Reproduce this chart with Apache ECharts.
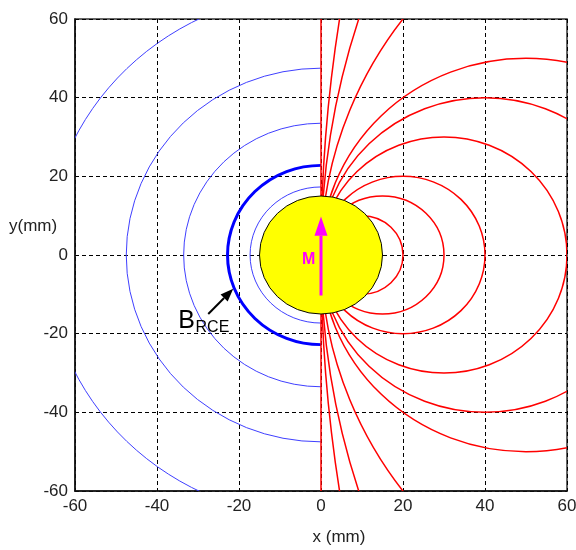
<!DOCTYPE html>
<html><head><meta charset="utf-8">
<script src="https://cdn.jsdelivr.net/npm/echarts@6/dist/echarts.min.js"></script>
<style>html,body{margin:0;padding:0;background:#fff}#c{width:576px;height:550px}</style>
</head><body><div id="c"></div>
<script>
// ---- axes ----
const axisMin = -60, axisMax = 60, axisStep = 20;
const xName = 'x (mm)';
const yName = 'y(mm)';

// ---- blue contours: half circles (x <= 0) centred on the origin, radii in mm ----
const blueThinRadii = [67, 47.5, 33.5, 17.3];
const blueRceRadii = [22.8];
// ---- red field lines: circles through the origin, centred on the x axis; radius in mm ----
const redCircleRadii = [10, 15, 20, 30, 40, 50, 100, 200, 400];
const redAxisLine = [[0, -60], [0, 60]];

// ---- sphere, moment arrow, annotation ----
const sphere = [[0, 0, 15]];                 // centre x, centre y, radius (mm)
const moment = [[0, -10.3, 9.8, 4.9]];       // x, tail y, tip y, head-base y
const momentLabel = 'M';
const momentLabelPos = [-3.0, -1.1];
const annotArrow = [[-27.5, -15.0, -21.4, -8.6]]; // tail x,y -> tip x,y
const annotMain = 'B', annotSub = 'RCE';
const annotMainPos = [-34.8, -16.9];
const annotSubPos = [-30.6, -18.5];

const FONT = 'Liberation Sans, Arial, sans-serif';
const chart = echarts.init(document.getElementById('c'), null, {renderer: 'canvas'});

// ellipse arc in pixel space for a data-space circle
function arcEl(api, cxData, cyData, rData, a0, a1, color, width) {
  const c = api.coord([cxData, cyData]);
  const s = api.size([rData, rData]);
  return {
    type: 'arc', x: c[0], y: c[1], scaleX: 1, scaleY: s[1] / s[0], originX: 0, originY: 0,
    shape: {cx: 0, cy: 0, r: s[0], startAngle: a0, endAngle: a1, clockwise: true},
    style: {stroke: color, lineWidth: width, fill: null, strokeNoScale: true}
  };
}

const series = [];

// blue thin half circles
series.push({
  type: 'custom', coordinateSystem: 'cartesian2d', clip: true, z: 2, animation: false, silent: true,
  data: blueThinRadii.map(r => [0, 0, r]),
  renderItem: function (params, api) {
    return arcEl(api, api.value(0), api.value(1), api.value(2), Math.PI / 2, Math.PI * 1.5, '#3a3aff', 1);
  }
});
// blue thick half circle (B_RCE)
series.push({
  type: 'custom', coordinateSystem: 'cartesian2d', clip: true, z: 2, animation: false, silent: true,
  data: blueRceRadii.map(r => [0, 0, r]),
  renderItem: function (params, api) {
    return arcEl(api, api.value(0), api.value(1), api.value(2), Math.PI / 2, Math.PI * 1.5, '#0000ff', 3);
  }
});
// red circles
series.push({
  type: 'custom', coordinateSystem: 'cartesian2d', clip: true, z: 3, animation: false, silent: true,
  data: redCircleRadii.map(r => [r, 0, r]),
  renderItem: function (params, api) {
    return arcEl(api, api.value(0), api.value(1), api.value(2), 0, Math.PI * 2, '#ff0000', 1.5);
  }
});
// red vertical axis line
series.push({type: 'line', data: redAxisLine, symbol: 'none', z: 3, clip: true, silent: true, animation: false,
  lineStyle: {color: '#ff0000', width: 1.5}});

series.push({
  type: 'custom', coordinateSystem: 'cartesian2d', data: sphere, z: 5, animation: false, silent: true,
  renderItem: function (params, api) {
    const c = api.coord([api.value(0), api.value(1)]);
    const s = api.size([api.value(2), api.value(2)]);
    return {type: 'arc', x: c[0], y: c[1], scaleX: 1, scaleY: s[1] / s[0], originX: 0, originY: 0,
      shape: {cx: 0, cy: 0, r: s[0], startAngle: 0, endAngle: Math.PI * 2},
      style: {fill: '#ffff00', stroke: '#000', lineWidth: 1, strokeNoScale: true}};
  }
});

series.push({
  type: 'custom', coordinateSystem: 'cartesian2d', data: moment, z: 6, animation: false, silent: true,
  renderItem: function (params, api) {
    const x = api.value(0);
    const p0 = api.coord([x, api.value(1)]);
    const p1 = api.coord([x, api.value(2)]);
    const pb = api.coord([x, api.value(3)]);
    const lp = api.coord(momentLabelPos);
    return {type: 'group', children: [
      {type: 'line', shape: {x1: p0[0], y1: p0[1], x2: pb[0], y2: pb[1]}, style: {stroke: '#ff00ff', lineWidth: 3}},
      {type: 'polygon', shape: {points: [p1, [pb[0] - 6.5, pb[1]], [pb[0] + 6.5, pb[1]]]}, style: {fill: '#ff00ff'}},
      {type: 'text', x: lp[0], y: lp[1], style: {text: momentLabel, fill: '#ff00ff', font: 'bold 16px ' + FONT, align: 'center', verticalAlign: 'middle'}}
    ]};
  }
});

series.push({
  type: 'custom', coordinateSystem: 'cartesian2d', data: annotArrow, z: 7, animation: false, silent: true, clip: false,
  renderItem: function (params, api) {
    const t = api.coord([api.value(0), api.value(1)]);
    const h = api.coord([api.value(2), api.value(3)]);
    const dx = h[0] - t[0], dy = h[1] - t[1];
    const len = Math.sqrt(dx * dx + dy * dy);
    const ux = dx / len, uy = dy / len;
    const hl = 13, hw = 5;
    const bx = h[0] - ux * hl, by = h[1] - uy * hl;
    const mp = api.coord(annotMainPos);
    const sp = api.coord(annotSubPos);
    return {type: 'group', children: [
      {type: 'line', shape: {x1: t[0], y1: t[1], x2: bx, y2: by}, style: {stroke: '#000', lineWidth: 2}},
      {type: 'polygon', shape: {points: [h, [bx - uy * hw, by + ux * hw], [bx + uy * hw, by - ux * hw]]}, style: {fill: '#000'}},
      {type: 'text', x: mp[0], y: mp[1], style: {text: annotMain, fill: '#000', font: '25px ' + FONT, align: 'left', verticalAlign: 'middle'}},
      {type: 'text', x: sp[0], y: sp[1], style: {text: annotSub, fill: '#000', font: '16px ' + FONT, align: 'left', verticalAlign: 'middle'}}
    ]};
  }
});

const axisCommon = {
  type: 'value', min: axisMin, max: axisMax, interval: axisStep,
  axisLine: {show: true, onZero: false, lineStyle: {color: '#111', width: 1.5}},
  axisTick: {show: false},
  splitLine: {show: true, lineStyle: {color: '#000', width: 1, type: [4, 3]}},
  axisLabel: {color: '#222', fontSize: 17, fontFamily: FONT, margin: 7}
};

chart.setOption({
  backgroundColor: '#ffffff',
  animation: false,
  grid: {left: 75, right: 9, top: 19, bottom: 59, containLabel: false, outerBoundsMode: 'none', show: true,
    borderColor: '#333', borderWidth: 1.5, backgroundColor: '#ffffff'},
  xAxis: Object.assign({}, axisCommon, {
    name: xName, nameLocation: 'middle', nameGap: 38, nameMoveOverlap: false,
    nameTextStyle: {color: '#222', fontSize: 17, fontFamily: FONT, padding: [0, 0, 0, 36]}
  }),
  yAxis: Object.assign({}, axisCommon),
  graphic: [{
    type: 'text', left: 9, top: 218, silent: true,
    style: {text: yName, fill: '#222', font: '17px ' + FONT}
  }],
  series: series
});
</script>
</body></html>
